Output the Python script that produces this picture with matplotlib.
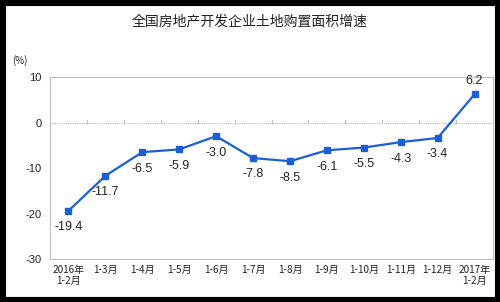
import matplotlib
matplotlib.use("Agg")
import matplotlib.pyplot as plt
from matplotlib.patches import Rectangle

plt.rcParams["font.family"] = ["Noto Sans CJK SC", "DejaVu Sans"]

categories = ["2016年\n1-2月", "1-3月", "1-4月", "1-5月", "1-6月", "1-7月",
              "1-8月", "1-9月", "1-10月", "1-11月", "1-12月", "2017年\n1-2月"]
values = [-19.4, -11.7, -6.5, -5.9, -3.0, -7.8, -8.5, -6.1, -5.5, -4.3, -3.4, 6.2]
yticks = [10, 0, -10, -20, -30]
title = "全国房地产开发企业土地购置面积增速"

line_color = "#1a5fd6"
grey = "#bdbdbd"
num_font = ["Liberation Sans", "DejaVu Sans"]

fig = plt.figure(figsize=(5.0, 3.02), dpi=100)
fig.patch.set_facecolor("white")
fig.add_artist(Rectangle((0, 0), 1, 1, transform=fig.transFigure, fill=False,
                         edgecolor="black", linewidth=8))

ax = fig.add_axes([0.1, 0.142, 0.886, 0.603])
x = list(range(len(values)))
ax.plot(x, values, color=line_color, linewidth=1.6, marker="s", markersize=4.5,
        markerfacecolor=line_color, markeredgecolor=line_color, zorder=3)

ax.set_xlim(-0.5, len(values) - 0.5)
ax.set_ylim(-30, 10)
ax.set_yticks(yticks)
ax.set_yticklabels([str(t) for t in yticks], fontsize=8, color="#222222",
                   family=num_font)
ax.set_xticks(x)
ax.set_xticklabels(categories, fontsize=7.2, color="#222222", linespacing=1.1)
ax.tick_params(axis="both", length=0, pad=6)
ax.tick_params(axis="x", pad=4)

for side in ["left", "top", "right"]:
    ax.spines[side].set_color(grey)
    ax.spines[side].set_linewidth(0.8)
ax.spines["bottom"].set_color(grey)
ax.spines["bottom"].set_linestyle((0, (1, 1)))
ax.spines["bottom"].set_linewidth(0.8)

# zero line with small ticks at category boundaries
ax.axhline(0, color=grey, linewidth=0.8, linestyle=(0, (1, 1)), zorder=1)
for b in range(len(values) - 1):
    ax.plot([b + 0.5, b + 0.5], [0, 0.5], color=grey, linewidth=0.8, zorder=1)

for i, v in enumerate(values):
    if i == len(values) - 1:
        ax.annotate(f"{v:.1f}", (i, v), xytext=(0, 5), textcoords="offset points",
                    ha="center", va="bottom", fontsize=9, color="#222222",
                    family=num_font)
    else:
        ax.annotate(f"{v:.1f}", (i, v), xytext=(0, -7.5), textcoords="offset points",
                    ha="center", va="top", fontsize=9, color="#222222",
                    family=num_font)

fig.text(0.5, 0.928, title, ha="center", va="center", fontsize=10, color="#222222")
fig.text(0.025, 0.8, "(%)", ha="left", va="center", fontsize=7, color="#222222")

fig.savefig("out.png", dpi=100)
